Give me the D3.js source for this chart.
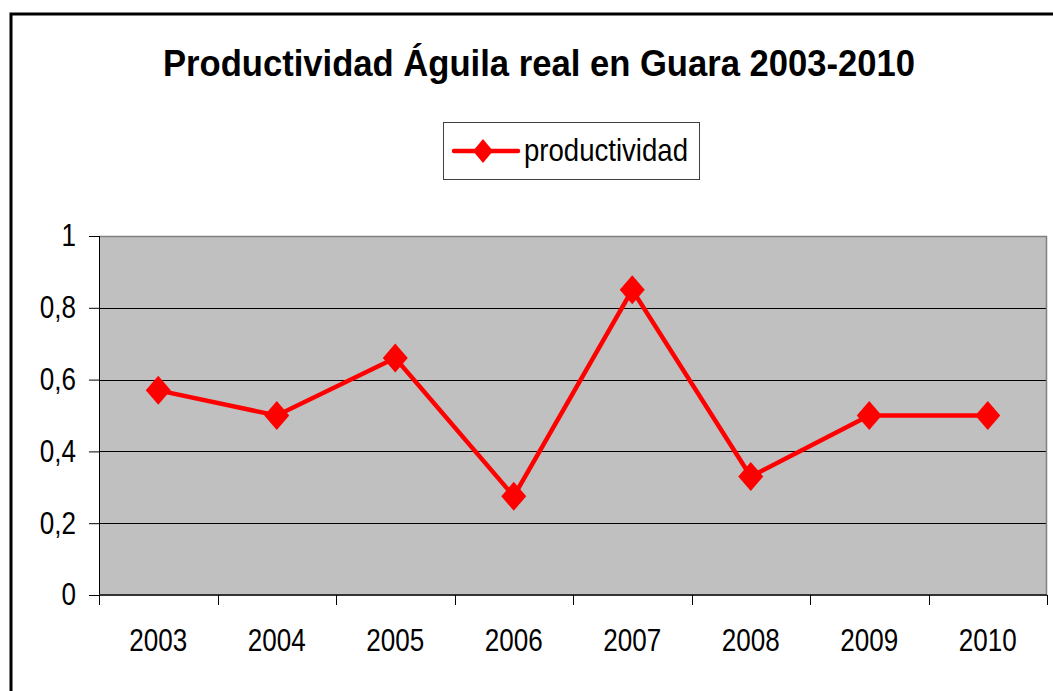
<!DOCTYPE html>
<html>
<head>
<meta charset="utf-8">
<script src="https://cdn.jsdelivr.net/npm/d3@7"></script>
<style>
  body { margin: 0; background: #fff; }
  svg { display: block; }
</style>
</head>
<body>
<div id="chart"></div>
<script>
const years = ["2003", "2004", "2005", "2006", "2007", "2008", "2009", "2010"];
const productividad = [0.57, 0.5, 0.66, 0.275, 0.85, 0.33, 0.5, 0.5];
const yTicks = [0, 0.2, 0.4, 0.6, 0.8, 1];
const yTickLabels = ["0", "0,2", "0,4", "0,6", "0,8", "1"];
const seriesName = "productividad";
const title = "Productividad Águila real en Guara 2003-2010";

const svgWidth = 1053;
const svgHeight = 691;
const margin = { top: 236, right: 6, bottom: 96, left: 99 };
const width = svgWidth - margin.left - margin.right;
const height = svgHeight - margin.top - margin.bottom;
const red = "#ff0000";
const font = "'Liberation Sans', Arial, sans-serif";
const squeeze = 0.84; // the reference text is a bit condensed

const svg = d3.select("#chart")
    .append("svg")
    .attr("width", svgWidth)
    .attr("height", svgHeight);

// chart area frame (runs past the right and bottom edges)
svg.append("rect")
    .attr("x", 11)
    .attr("y", 14)
    .attr("width", 1100)
    .attr("height", 800)
    .attr("fill", "#fff")
    .attr("stroke", "#000")
    .attr("stroke-width", 3);

svg.append("text")
    .attr("x", 163)
    .attr("y", 76)
    .attr("textLength", 752)
    .attr("lengthAdjust", "spacingAndGlyphs")
    .style("font-family", font)
    .style("font-weight", "bold")
    .style("font-size", "37px")
    .text(title);

const g = svg.append("g")
    .attr("transform", "translate(" + margin.left + "," + margin.top + ")");

const xScale = d3.scaleBand()
    .domain(years)
    .range([0, width]);

const yScale = d3.scaleLinear()
    .domain([0, 1])
    .range([height, 0]);

g.append("rect")
    .attr("width", width)
    .attr("height", height)
    .attr("fill", "#c0c0c0");

// gridlines
g.selectAll(".grid")
    .data(yTicks.filter(d => d > 0 && d < 1))
    .enter()
    .append("line")
    .attr("class", "grid")
    .attr("x1", 0)
    .attr("x2", width)
    .attr("y1", d => Math.round(yScale(d)) + 0.5)
    .attr("y2", d => Math.round(yScale(d)) + 0.5)
    .attr("stroke", "#000");

// plot border top / right
g.append("path")
    .attr("d", "M0," + (yScale(1) + 0.5) + "H" + (width - 0.5) + "V" + height)
    .attr("fill", "none")
    .attr("stroke", "#808080")
    .attr("stroke-width", 1.5);

function condense(sel) {
  sel.style("font-family", font)
      .style("font-size", "31px")
      .attr("fill", "#000")
      .each(function() {
        const len = this.getComputedTextLength();
        d3.select(this)
            .attr("textLength", len * squeeze)
            .attr("lengthAdjust", "spacingAndGlyphs");
      });
}

// y axis
const yAxis = g.append("g")
    .attr("class", "axis-y")
    .call(d3.axisLeft(yScale)
        .tickValues(yTicks)
        .tickSize(10)
        .tickPadding(13)
        .tickFormat((d, i) => yTickLabels[i]));
yAxis.select(".domain").attr("stroke", "#000").attr("d", "M0.5," + height + "V0");
yAxis.selectAll(".tick line").attr("stroke", "#000");
yAxis.selectAll("text").call(condense);

// x axis with ticks at category boundaries
const xAxis = g.append("g")
    .attr("class", "axis-x")
    .attr("transform", "translate(0," + height + ")")
    .call(d3.axisBottom(xScale).tickSize(0).tickPadding(34));
xAxis.select(".domain").attr("stroke", "#333").attr("stroke-width", 2).attr("d", "M0,0H" + width);
xAxis.selectAll("text").call(condense);

xAxis.selectAll(".bound")
    .data(years.concat(["end"]))
    .enter()
    .append("line")
    .attr("class", "bound")
    .attr("x1", (d, i) => Math.round(i * xScale.step()) + 0.5)
    .attr("x2", (d, i) => Math.round(i * xScale.step()) + 0.5)
    .attr("y1", 0)
    .attr("y2", 10)
    .attr("stroke", "#000");

const cx = d => xScale(d) + xScale.bandwidth() / 2;

const line = d3.line()
    .x((d, i) => cx(years[i]))
    .y(d => yScale(d));

g.append("path")
    .datum(productividad)
    .attr("fill", "none")
    .attr("stroke", red)
    .attr("stroke-width", 4.5)
    .attr("stroke-linejoin", "miter")
    .attr("d", line);

function diamond(w, h) {
  return "M0," + (-h) + "L" + w + ",0L0," + h + "L" + (-w) + ",0Z";
}

g.selectAll(".marker")
    .data(productividad)
    .enter()
    .append("path")
    .attr("class", "marker")
    .attr("transform", (d, i) => "translate(" + cx(years[i]) + "," + yScale(d) + ")")
    .attr("d", diamond(12.5, 14.5))
    .attr("fill", red);

// legend
const legend = svg.append("g").attr("transform", "translate(443,122)");
legend.append("rect")
    .attr("x", 0.5)
    .attr("y", 0.5)
    .attr("width", 256)
    .attr("height", 57)
    .attr("fill", "#fff")
    .attr("stroke", "#404040");
legend.append("line")
    .attr("x1", 11)
    .attr("x2", 75)
    .attr("y1", 29)
    .attr("y2", 29)
    .attr("stroke", red)
    .attr("stroke-width", 4.5)
    .attr("stroke-linecap", "round");
legend.append("path")
    .attr("transform", "translate(40,29)")
    .attr("d", diamond(10, 12))
    .attr("fill", red);
legend.append("text")
    .attr("x", 81)
    .attr("y", 39)
    .attr("textLength", 164)
    .attr("lengthAdjust", "spacingAndGlyphs")
    .style("font-family", font)
    .style("font-size", "32px")
    .text(seriesName);
</script>
</body>
</html>
